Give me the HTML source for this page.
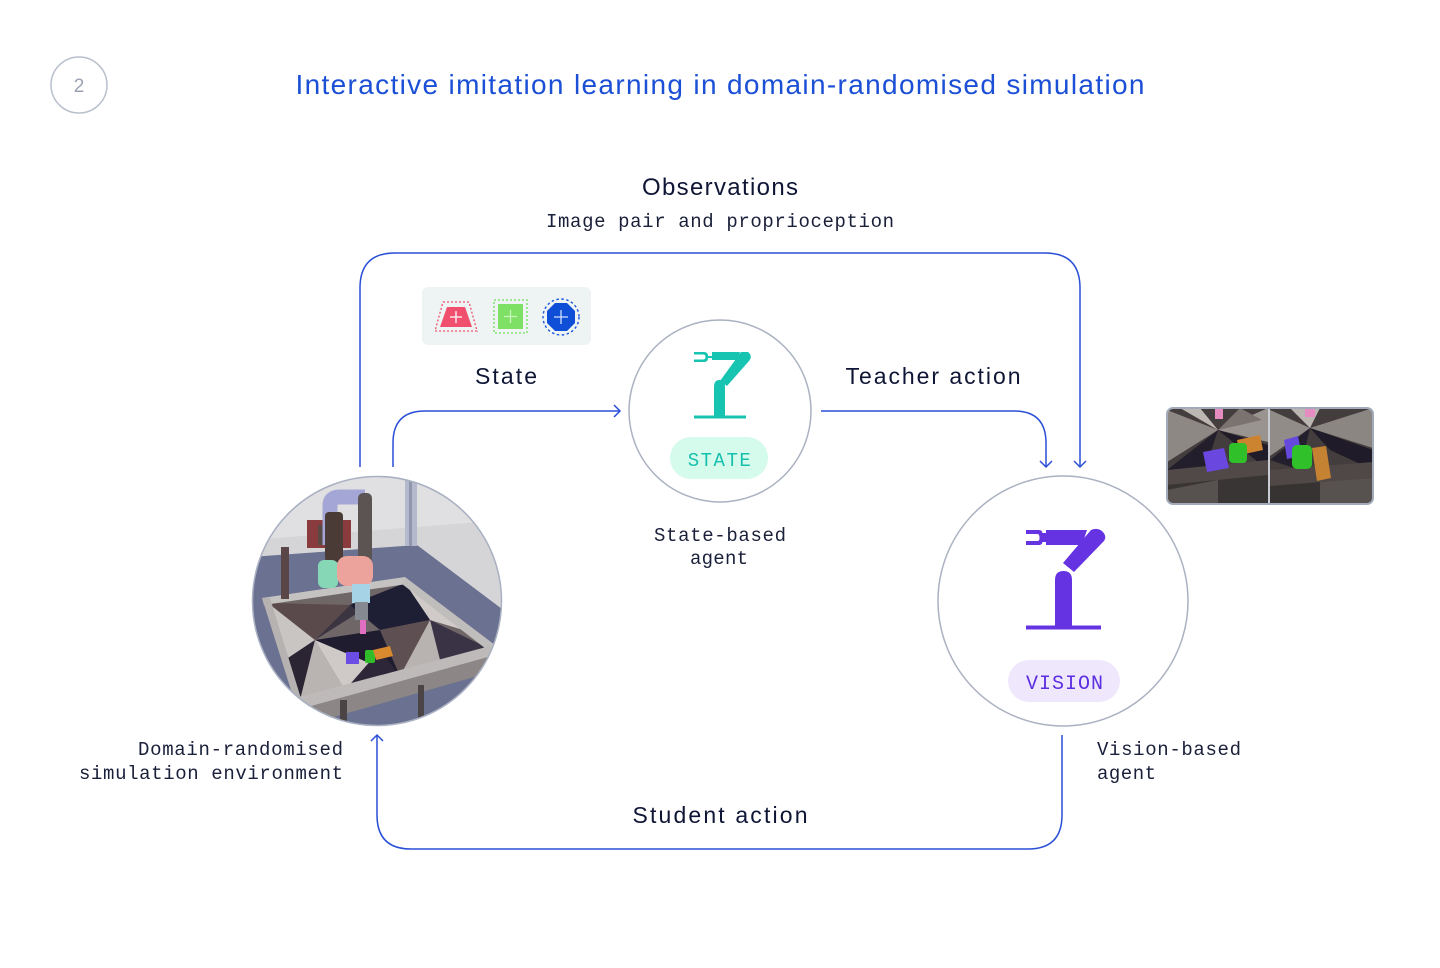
<!DOCTYPE html>
<html><head><meta charset="utf-8"><style>
html,body{margin:0;padding:0;background:#fff;}
svg{display:block;}
.sans{font-family:"Liberation Sans",sans-serif;}
.mono{font-family:"Liberation Mono",monospace;}
</style></head><body>
<svg width="1440" height="968" viewBox="0 0 1440 968" xmlns="http://www.w3.org/2000/svg">
<defs>
<clipPath id="simclip"><circle cx="377" cy="601" r="124"/></clipPath>
<clipPath id="pairclip"><rect x="1167" y="408" width="206" height="96" rx="6"/></clipPath>
<clipPath id="lp"><rect x="1167" y="408" width="101" height="96"/></clipPath>
<clipPath id="rp"><rect x="1270" y="408" width="103" height="96"/></clipPath>
</defs>

<!-- step number -->
<circle cx="79" cy="85" r="28" fill="none" stroke="#b9c0cc" stroke-width="1.5"/>
<text x="79" y="92" text-anchor="middle" class="sans" font-size="19" fill="#9aa2b2">2</text>

<!-- title -->
<text x="720" y="94" text-anchor="middle" class="sans" font-size="28" fill="#1a4fd6" textLength="849">Interactive imitation learning in domain-randomised simulation</text>

<!-- observations -->
<text x="720" y="195" text-anchor="middle" class="sans" font-size="24" fill="#0f1535" textLength="156">Observations</text>
<text x="720" y="227" text-anchor="middle" class="mono" font-size="19" fill="#1a1f3a" textLength="348">Image pair and proprioception</text>

<!-- connectors -->
<g fill="none" stroke="#2a4fd6" stroke-width="1.5">
  <path d="M360 467 V288 Q360 253 395 253 H1045 Q1080 253 1080 288 V467"/>
  <path d="M1074 461 L1080 467 L1086 461"/>
  <path d="M393 467 V443 Q393 411 425 411 H620"/>
  <path d="M614 405 L620 411 L614 417"/>
  <path d="M821 411 H1014 Q1046 411 1046 443 V467"/>
  <path d="M1040 461 L1046 467 L1052 461"/>
  <path d="M1062 735 V815 Q1062 849 1028 849 H411 Q377 849 377 815 V735"/>
  <path d="M371 741 L377 735 L383 741"/>
</g>

<!-- state icons box -->
<rect x="422" y="287" width="169" height="58" rx="6" fill="#eef4f4"/>
<polygon points="443,302 469,302 477,331 435,331" fill="none" stroke="#f0506e" stroke-width="1.3" stroke-dasharray="2,2"/>
<polygon points="447,307 465,307 472,327 440,327" fill="#f0506e"/>
<path d="M456 311 V323 M450 317 H462" stroke="#fff" stroke-width="1.3"/>
<rect x="494" y="300" width="33" height="33" fill="none" stroke="#6fe05a" stroke-width="1.3" stroke-dasharray="2,2"/>
<rect x="498" y="304" width="25" height="25" fill="#7fe066"/>
<path d="M510.5 310 V323 M504 316.5 H517" stroke="#c8f5b8" stroke-width="1.3"/>
<circle cx="561" cy="317" r="18" fill="none" stroke="#1a55e0" stroke-width="1.4" stroke-dasharray="2.5,2.5"/>
<polygon points="555,303 567,303 575,311 575,323 567,331 555,331 547,323 547,311" fill="#0f4ed6"/>
<path d="M561 310 V324 M554 317 H568" stroke="#cfe0ff" stroke-width="1.3"/>

<text x="506" y="384" text-anchor="middle" class="sans" font-size="23" fill="#0f1535" textLength="62">State</text>
<text x="933" y="384" text-anchor="middle" class="sans" font-size="23" fill="#0f1535" textLength="175">Teacher action</text>
<text x="720" y="823" text-anchor="middle" class="sans" font-size="23" fill="#0f1535" textLength="175">Student action</text>

<!-- state agent -->
<circle cx="720" cy="411" r="91" fill="#fff" stroke="#aab1c1" stroke-width="1.5"/>
<g fill="#17c4b1">
  <path d="M694 352 H704 Q708 352 708 356 H712 V352 H740 L738 360 H712 V358 H708 Q708 362 704 362 H694 V359.5 H703 Q705.5 359.5 705.5 357 Q705.5 354.5 703 354.5 H694 Z"/>
  <path d="M741 352 L748 352 Q753 356 749 361 L727 386 L720 381 Z"/>
  <path d="M714 387 Q714 380 719.5 380 Q725 380 725 387 V416 H714 Z"/>
  <rect x="694" y="415.5" width="52" height="3"/>
</g>
<rect x="670" y="437" width="98" height="42" rx="21" fill="#d4fbec"/>
<text x="720" y="466" text-anchor="middle" class="mono" font-size="19" fill="#17c0ad" letter-spacing="1.5">STATE</text>
<text x="720" y="541" text-anchor="middle" class="mono" font-size="19" fill="#1a1f3a" textLength="132">State-based</text>
<text x="719" y="564" text-anchor="middle" class="mono" font-size="19" fill="#1a1f3a" textLength="58">agent</text>

<!-- vision agent -->
<circle cx="1063" cy="601" r="125" fill="#fff" stroke="#aab1c1" stroke-width="1.5"/>
<g fill="#6633e3">
  <path d="M1026 530 H1039 Q1042 530 1042.5 533 H1046 V530 H1087 L1082 545 H1046 V542 H1042.5 Q1042 545 1039 545 H1026 V541 H1037.5 Q1039.5 541 1039.5 538 Q1039.5 534 1037.5 534 H1026 Z"/>
  <path d="M1091 530 Q1098 527 1103 532 Q1108 538 1102 543 L1074 572 L1063 563 Z"/>
  <path d="M1055 580 Q1055 571 1063.5 571 Q1072 571 1072 580 V627 H1055 Z"/>
  <rect x="1026" y="625.5" width="75" height="4"/>
</g>
<rect x="1008" y="660" width="112" height="42" rx="21" fill="#efe8fd"/>
<text x="1065" y="689" text-anchor="middle" class="mono" font-size="20" fill="#5b2ee0" letter-spacing="1">VISION</text>
<text x="1097" y="755" class="mono" font-size="19" fill="#1a1f3a" textLength="144">Vision-based</text>
<text x="1097" y="779" class="mono" font-size="19" fill="#1a1f3a" textLength="59">agent</text>

<!-- sim environment -->
<g clip-path="url(#simclip)">
  <rect x="250" y="474" width="256" height="256" fill="#d5d5d7"/>
  <polygon points="250,474 506,474 506,520 250,540" fill="#e0e0e2"/>
  <polygon points="250,557 417,545 506,612 506,730 250,730" fill="#6b7190"/>
  <rect x="405" y="476" width="12" height="70" fill="#b4b9cc"/>
  <rect x="409" y="476" width="3" height="70" fill="#8f96ad"/>
  <!-- table -->
  <polygon points="268,603 405,583 488,648 300,700" fill="#6e6667"/>
  <polygon points="268,603 315,640 285,660" fill="#c9c5c3"/>
  <polygon points="285,660 315,640 300,700" fill="#2a2433"/>
  <polygon points="315,640 405,583 350,605" fill="#3b3542"/>
  <polygon points="315,640 300,700 345,690" fill="#b9b3b1"/>
  <polygon points="315,640 345,690 400,676" fill="#cfcac7"/>
  <polygon points="315,640 400,676 380,630" fill="#1f1c30"/>
  <polygon points="430,620 405,583 470,632" fill="#d0cbc8"/>
  <polygon points="430,620 488,648 440,660" fill="#3a3345"/>
  <polygon points="430,620 400,676 440,660" fill="#b8b2b0"/>
  <polygon points="350,605 405,583 430,620 380,630" fill="#1e1e34"/>
  <polygon points="268,603 350,605 315,640" fill="#5a4a4c"/>
  <polygon points="380,630 430,620 400,676" fill="#5e5052"/>
  <polygon points="345,690 400,676 380,650" fill="#2c2638"/>
  <!-- rails -->
  <polygon points="262,598 405,577 407,584 264,605" fill="#c5c3c2"/>
  <polygon points="405,577 495,645 490,652 402,584" fill="#c0bebd"/>
  <polygon points="295,698 490,646 492,656 297,710" fill="#bdbab9"/>
  <polygon points="262,598 270,598 303,705 296,706" fill="#b5b2b1"/>
  <polygon points="297,710 492,656 492,672 302,726" fill="#8c8786"/>
  <rect x="340" y="700" width="7" height="30" fill="#4a4446"/>
  <rect x="418" y="685" width="6" height="40" fill="#4a4446"/>
  <rect x="281" y="547" width="8" height="52" fill="#5a4646"/>
  <!-- robot -->
  <rect x="307" y="520" width="44" height="28" fill="#8a3b3e"/>
  <rect x="318" y="525" width="22" height="20" fill="#5a4a45"/>
  <path d="M330 545 V505 Q330 497 340 497 H365" fill="none" stroke="#a4a7d6" stroke-width="15"/>
  <rect x="358" y="493" width="14" height="70" rx="5" fill="#5b5452"/>
  <rect x="325" y="512" width="18" height="50" rx="4" fill="#4a3b36"/>
  <rect x="318" y="560" width="20" height="28" rx="6" fill="#86d7b6"/>
  <rect x="337" y="556" width="36" height="30" rx="10" fill="#eba39b"/>
  <rect x="352" y="584" width="18" height="19" fill="#a6d4e6"/>
  <rect x="355" y="602" width="13" height="18" fill="#858991"/>
  <rect x="360" y="620" width="6" height="14" fill="#e06fc2"/>
  <!-- cubes -->
  <rect x="346" y="652" width="13" height="12" fill="#6b4de6"/>
  <rect x="365" y="650" width="10" height="13" rx="2" fill="#2fbe2a"/>
  <polygon points="373,650 390,646 393,656 376,660" fill="#d98a2e"/>
</g>
<circle cx="377" cy="601" r="124.5" fill="none" stroke="#a9b0c2" stroke-width="1.5"/>

<!-- image pair -->
<g clip-path="url(#pairclip)">
  <rect x="1166" y="407" width="208" height="98" fill="#443d3d"/>
  <g clip-path="url(#lp)">
    <polygon points="1167,410 1218,430 1167,462" fill="#8e8885"/>
    <polygon points="1268,408 1218,430 1268,442" fill="#9a9491"/>
    <polygon points="1180,408 1218,430 1200,408" fill="#bdb7b3"/>
    <polygon points="1240,408 1218,430 1262,420" fill="#7a7370"/>
    <polygon points="1167,470 1218,430 1205,470" fill="#231e2b"/>
    <polygon points="1218,430 1268,445 1268,470" fill="#1f1b28"/>
    <polygon points="1167,470 1268,460 1268,475 1167,485" fill="#504948"/>
    <polygon points="1167,485 1268,475 1268,504 1167,504" fill="#3a3535"/>
    <polygon points="1167,490 1218,480 1218,504 1167,504" fill="#57514f"/>
    <rect x="1215" y="409" width="8" height="10" fill="#e58cc0"/>
    <polygon points="1237,440 1260,435 1263,450 1240,455" fill="#cc8430"/>
    <polygon points="1203,452 1224,448 1229,468 1207,472" fill="#6a48df"/>
    <rect x="1229" y="443" width="18" height="20" rx="4" fill="#2fc02a"/>
  </g>
  <g clip-path="url(#rp)">
    <polygon points="1270,410 1310,428 1270,456" fill="#928c89"/>
    <polygon points="1373,408 1310,428 1373,448" fill="#8c8683"/>
    <polygon points="1290,408 1310,428 1320,408" fill="#bcb6b2"/>
    <polygon points="1270,460 1310,428 1300,470" fill="#241f2c"/>
    <polygon points="1310,428 1373,450 1373,470 1330,450" fill="#1f1b28"/>
    <polygon points="1270,470 1373,462 1373,478 1270,486" fill="#4f4847"/>
    <polygon points="1270,486 1373,478 1373,504 1270,504" fill="#383333"/>
    <polygon points="1320,482 1373,478 1373,504 1320,504" fill="#57514f"/>
    <rect x="1305" y="409" width="10" height="8" fill="#e58cc0"/>
    <polygon points="1284,440 1298,436 1302,456 1287,459" fill="#6548dc"/>
    <rect x="1292" y="445" width="20" height="24" rx="5" fill="#2fc02a"/>
    <polygon points="1312,448 1326,446 1331,478 1317,481" fill="#c58232"/>
  </g>
  <rect x="1268" y="407" width="2" height="98" fill="#c9ccd3"/>
</g>
<rect x="1167" y="408" width="206" height="96" rx="6" fill="none" stroke="#a3abba" stroke-width="2"/>

<!-- env label -->
<text x="343" y="755" text-anchor="end" class="mono" font-size="19" fill="#1a1f3a" textLength="205">Domain-randomised</text>
<text x="343" y="779" text-anchor="end" class="mono" font-size="19" fill="#1a1f3a" textLength="264">simulation environment</text>
</svg>
</body></html>
